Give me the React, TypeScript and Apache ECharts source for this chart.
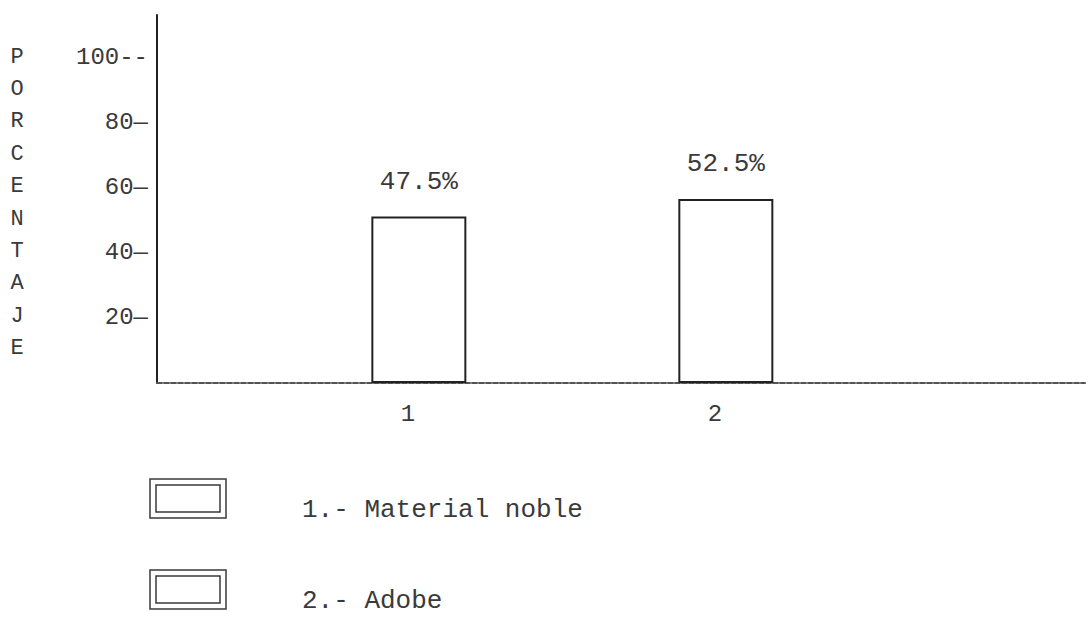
import React, { useEffect, useRef } from "react";
import * as echarts from "echarts";

const categories = [1, 2];
const percentages = [47.5, 52.5];
const percentLabels = ["47.5%", "52.5%"];
const legendItems = ["1.- Material noble", "2.- Adobe"];
const titleLetters = ["P", "O", "R", "C", "E", "N", "T", "A", "J", "E"];

export default function App() {
  const ref = useRef<HTMLDivElement>(null);
  useEffect(() => {
    const chart = echarts.init(ref.current as HTMLDivElement, null, { renderer: "svg" });
    const font = "'Liberation Mono', 'DejaVu Sans Mono', monospace";
    const ink = "#3a3a3a";
    const graphics: any[] = [];
    titleLetters.forEach((ch, i) => {
      graphics.push({
        type: "text",
        x: 17,
        y: 57 + i * 32.4,
        style: { text: ch, fill: ink, font: `22px ${font}`, textAlign: "center", textVerticalAlign: "middle" },
      });
    });
    const legendTops = [479, 570];
    legendItems.forEach((t, i) => {
      const y0 = legendTops[i];
      graphics.push({
        type: "rect",
        shape: { x: 150, y: y0, width: 76, height: 39 },
        style: { fill: "none", stroke: ink, lineWidth: 1.5 },
      });
      graphics.push({
        type: "rect",
        shape: { x: 156, y: y0 + 6, width: 64, height: 27 },
        style: { fill: "none", stroke: ink, lineWidth: 1.5 },
      });
      graphics.push({
        type: "text",
        x: 302,
        y: y0 + 31,
        style: { text: t, fill: ink, font: `26px ${font}`, textAlign: "left", textVerticalAlign: "middle" },
      });
    });

    const option: any = {
      animation: false,
      backgroundColor: "#ffffff",
      grid: { left: 157, top: 15, width: 928, height: 368, containLabel: false },
      xAxis: {
        type: "value",
        min: 0.147,
        max: 3.17,
        axisLine: { show: true, onZero: false, lineStyle: { color: "#555", width: 2, type: [5, 2] } },
        axisTick: { show: false },
        splitLine: { show: false },
        axisLabel: {
          customValues: categories,
          formatter: (v: number) => String(v),
          margin: 19,
          color: ink,
          fontFamily: font,
          fontSize: 24,
          padding: [0, 22, 0, 0],
        },
      },
      yAxis: [
        {
          type: "value",
          min: 0,
          max: 113.2,
          interval: 20,
          position: "left",
          axisLine: { show: true, onZero: false, lineStyle: { color: "#222", width: 2 } },
          axisTick: { show: false },
          splitLine: { show: false },
          axisLabel: {
            showMaxLabel: false,
            formatter: (v: number) =>
              v === 100 ? "100--" : v > 0 && v < 100 && v % 20 === 0 ? `${v}—` : "",
            margin: 9,
            color: ink,
            fontFamily: font,
            fontSize: 24,
          },
        },
        { type: "value", min: 0, max: 105, show: false },
      ],
      series: [
        {
          type: "bar",
          xAxisIndex: 0,
          yAxisIndex: 1,
          data: categories.map((c, i) => [c, percentages[i]]),
          barWidth: 95,
          itemStyle: { color: "rgba(0,0,0,0)", borderColor: "#222", borderWidth: 2 },
          label: {
            show: true,
            position: "top",
            distance: 22,
            formatter: (p: any) => percentLabels[p.dataIndex],
            color: ink,
            fontFamily: font,
            fontSize: 26,
          },
        },
      ],
      graphic: graphics,
    };
    chart.setOption(option);
    return () => chart.dispose();
  }, []);
  return (
    <div
      ref={ref}
      style={{ position: "fixed", left: 0, top: 0, width: 1088, height: 618, background: "#fff" }}
    />
  );
}
